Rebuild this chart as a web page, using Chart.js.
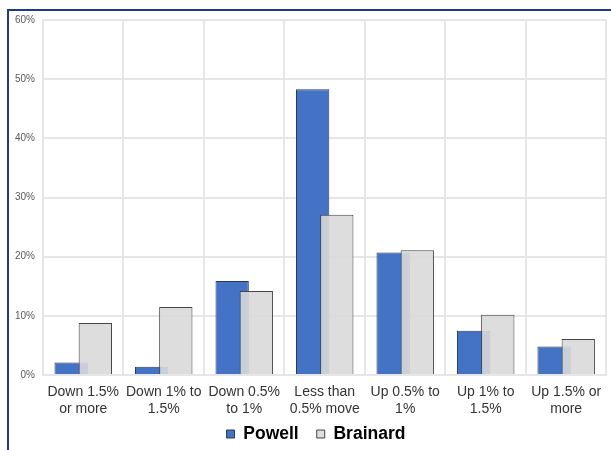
<!DOCTYPE html>
<html>
<head>
<meta charset="utf-8">
<script src="https://cdn.jsdelivr.net/npm/chart.js@4.4.1/dist/chart.umd.min.js"></script>
<style>
  html, body { margin: 0; padding: 0; background: #ffffff; overflow: hidden; }
  #frame {
    position: absolute; left: 7px; top: 9px; width: 720px; height: 520px;
    border-left: 2px solid #1f3a80; border-top: 2px solid #1f3a80; box-sizing: border-box;
    z-index: 0;
  }
  #wrap { position: absolute; left: 0; top: 0; width: 611px; height: 450px; z-index: 1; }
</style>
</head>
<body>
<div id="frame"></div>
<div id="wrap"><canvas id="chart" width="611" height="450"></canvas></div>
<script>
// Distribution of market moves (% of occurrences)
const categories = [
  ["Down 1.5%", "or more"],
  ["Down 1% to", "1.5%"],
  ["Down 0.5%", "to 1%"],
  ["Less than", "0.5% move"],
  ["Up 0.5% to", "1%"],
  ["Up 1% to", "1.5%"],
  ["Up 1.5% or", "more"]
];
const powell = [2.1, 1.4, 15.9, 48.3, 20.7, 7.5, 4.8];
const brainard = [8.8, 11.5, 14.2, 27.1, 21.1, 10.2, 6.1];
const yTicks = [0, 10, 20, 30, 40, 50, 60];

const FONT = "'Liberation Sans', Arial, Helvetica, sans-serif";
const GRID = '#e6e6e6';

// Draw datasets first-to-last so the second bar of each pair overlaps the first
const drawInDatasetOrder = {
  id: 'drawInDatasetOrder',
  beforeDatasetsDraw(chart) {
    chart.getSortedVisibleDatasetMetas().forEach(meta => chart._drawDataset(meta));
    return false;
  }
};

// Nudge the legend box: a little right of centre and closer to the axis labels
const legendPlacement = {
  id: 'legendPlacement',
  afterLayout(chart) {
    const lg = chart.legend;
    if (!lg) return;
    lg.left += 25;
    lg.top -= 9.75;
    lg.bottom -= 9.75;
  }
};

new Chart(document.getElementById('chart'), {
  type: 'bar',
  data: {
    labels: categories,
    datasets: [
      {
        label: 'Powell',
        data: powell,
        backgroundColor: '#4472c4',
        borderColor: '#2a3957',
        borderWidth: 1
      },
      {
        label: 'Brainard',
        data: brainard,
        backgroundColor: 'rgba(217,217,217,0.9)',
        borderColor: '#454545',
        borderWidth: 1
      }
    ]
  },
  options: {
    responsive: false,
    animation: false,
    events: [],
    categoryPercentage: 0.6,
    barPercentage: 1.38,
    layout: { padding: { top: 20, left: 0, right: 4, bottom: -12.5 } },
    plugins: {
      tooltip: { enabled: false },
      legend: {
        position: 'bottom',
        labels: {
          boxWidth: 8,
          boxHeight: 8,
          padding: 18,
          color: '#000000',
          font: { family: FONT, size: 17.5, weight: 'bold' }
        }
      }
    },
    scales: {
      x: {
        grid: { color: GRID, lineWidth: 2, drawTicks: false, offset: true },
        border: { color: GRID, width: 2 },
        ticks: {
          padding: 9.5,
          maxRotation: 0,
          autoSkip: false,
          color: '#333333',
          font: { family: FONT, size: 14, lineHeight: 1.15 }
        },
        afterFit(scale) { scale.height = 42; }
      },
      y: {
        min: 0,
        max: 60,
        grid: { color: GRID, lineWidth: 2, drawTicks: false },
        border: { color: GRID, width: 2 },
        afterBuildTicks(scale) { scale.ticks = yTicks.map(v => ({ value: v })); },
        ticks: {
          padding: 8,
          color: '#595959',
          font: { family: FONT, size: 10 },
          callback: v => v + '%'
        },
        afterFit(scale) { scale.width = 43; }
      }
    }
  },
  plugins: [drawInDatasetOrder, legendPlacement]
});
</script>
</body>
</html>
